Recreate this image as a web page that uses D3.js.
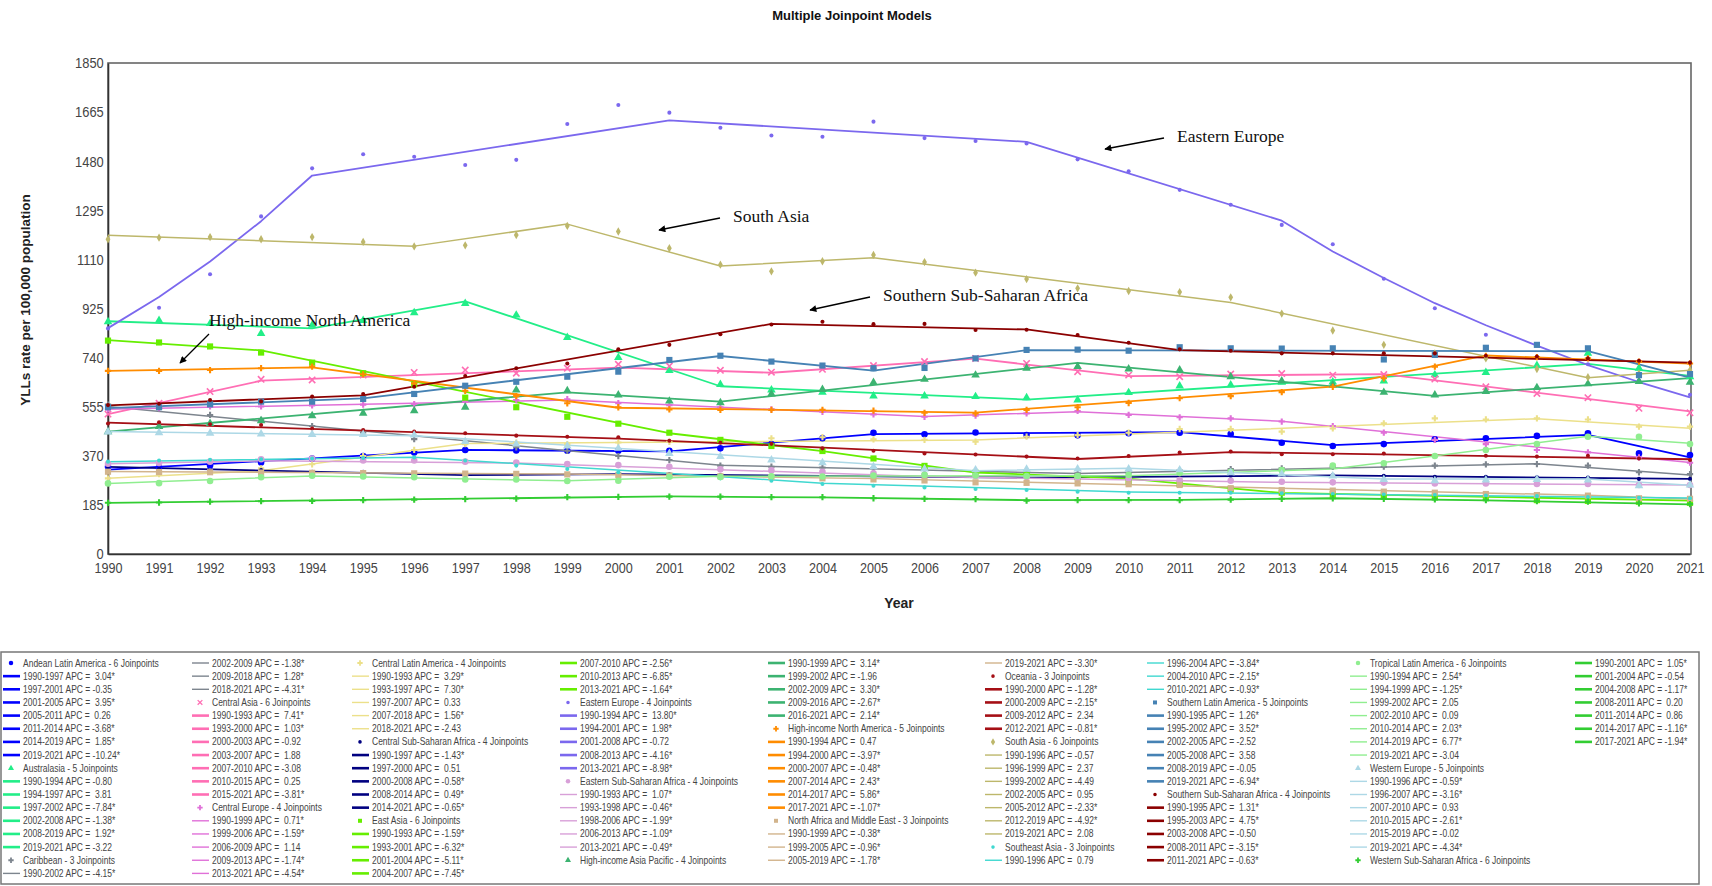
<!DOCTYPE html>
<html><head><meta charset="utf-8">
<script src="https://cdn.jsdelivr.net/npm/d3@7"></script>
<style>
html,body{margin:0;padding:0;background:#fff;}
svg{display:block;}
text{white-space:pre;}
</style></head><body>
<svg id="chart" width="1712" height="886"></svg>
<script>
// ---------------- DATA ----------------
const years = [1990,1991,1992,1993,1994,1995,1996,1997,1998,1999,2000,2001,2002,2003,2004,2005,2006,2007,2008,2009,2010,2011,2012,2013,2014,2015,2016,2017,2018,2019,2020,2021];
const yTicks = [0,185,370,555,740,925,1110,1295,1480,1665,1850];

const regions = ["Andean Latin America","Australasia","Caribbean","Central Asia","Central Europe","Central Latin America","Central Sub-Saharan Africa","East Asia","Eastern Europe","Eastern Sub-Saharan Africa","High-income Asia Pacific","High-income North America","North Africa and Middle East","Oceania","South Asia","Southeast Asia","Southern Latin America","Southern Sub-Saharan Africa","Tropical Latin America","Western Europe","Western Sub-Saharan Africa"];
const joinpoints = [6,5,3,6,4,4,4,6,4,4,4,5,3,3,6,3,5,4,6,5,6];

// observed YLL rates per 100,000 (points)
const andeanObs = [329,325,333,345,360,369,382,392,390,389,389,389,398,414,436,457,451,458,448,447,455,457,452,419,407,414,432,436,445,455,379,373];
const australasiaObs = [875,880,868,831,862,880,909,944,900,816,740,691,639,618,609,595,595,593,589,580,608,633,637,647,648,652,675,684,710,756,700,668];
const caribbeanObs = [563,549,524,505,482,458,433,417,402,389,369,354,333,329,326,323,319,310,306,304,306,314,320,323,329,329,333,338,339,333,308,301];
const centralAsiaObs = [527,568,612,658,656,674,684,693,681,700,715,708,692,685,696,710,725,737,718,687,674,668,678,680,674,676,659,630,605,589,549,532];
const centralEuropeObs = [545,550,556,556,560,563,565,574,580,583,568,561,553,545,536,526,517,521,530,539,524,515,511,499,482,457,430,414,392,383,364,344];
const centralLatAmObs = [285,301,310,323,338,369,392,414,420,414,420,423,426,436,440,432,430,423,442,448,457,471,471,461,473,492,511,507,511,507,480,480];
const centralSSAObs = [328,320,314,316,310,310,301,298,301,301,301,300,298,296,295,294,293,292,290,290,292,294,295,298,298,295,291,291,289,288,283,283];
const eastAsiaObs = [804,797,782,759,721,681,639,589,553,517,491,457,430,407,388,360,332,306,298,289,273,264,244,231,226,222,216,211,203,200,197,193];
const easternEuropeObs = [850,928,1054,1272,1453,1506,1497,1466,1485,1620,1692,1663,1606,1577,1572,1629,1567,1556,1547,1487,1442,1372,1316,1240,1167,1037,926,826,790,715,655,600];
const easternSSAObs = [340,343,348,357,360,352,352,348,345,339,335,329,319,315,310,304,298,294,290,287,284,279,276,272,270,269,266,266,264,264,260,260];
const hiapObs = [461,480,492,502,521,530,540,553,618,615,599,576,570,603,620,646,658,674,700,706,697,693,668,652,637,609,599,612,627,641,650,647];
const hinaObs = [690,690,693,700,706,677,643,615,595,568,553,545,543,543,543,540,532,530,543,553,569,587,595,610,630,662,706,746,742,737,725,718];
const nameObs = [310,309,308,307,306,305,304,303,302,300,298,296,293,290,285,281,277,270,268,266,263,260,248,241,239,235,231,226,222,220,210,208];
const oceaniaObs = [492,496,489,486,473,467,461,455,446,442,440,427,419,415,398,389,379,375,367,360,369,382,386,376,376,379,372,370,367,370,360,354];
const southAsiaObs = [1186,1192,1194,1186,1194,1176,1159,1163,1202,1236,1215,1152,1090,1065,1103,1127,1100,1060,1036,1001,991,987,967,906,842,788,756,737,697,666,680,693];
const seAsiaObs = [348,352,355,357,360,362,364,352,333,320,308,293,285,276,264,257,251,245,241,235,231,231,231,229,226,224,222,220,218,215,212,210];
const southernLatAmObs = [553,553,564,574,574,584,603,634,649,668,687,731,747,725,710,700,701,737,769,770,766,779,775,774,775,733,750,777,788,775,674,678];
const southernSSAObs = [561,566,580,575,593,603,630,671,700,718,771,788,828,865,875,866,867,844,845,825,796,771,766,756,756,756,756,747,744,737,728,721];
const tropicalLatAmObs = [266,267,275,289,295,292,289,281,281,275,276,291,290,293,292,296,298,296,294,294,298,305,310,316,333,342,369,392,414,442,442,414];
const westernEuropeObs = [460,457,455,452,450,450,448,424,414,407,398,379,367,354,344,329,320,317,319,320,320,317,306,301,294,281,276,279,281,279,257,260];
const westernSSAObs = [193,194,197,199,200,203,205,207,209,214,215,216,216,214,214,210,208,207,201,203,203,203,205,208,210,208,206,203,199,197,191,188];

// fitted joinpoint model lines: [year, modelled value]
const andeanFit = [[1990,318],[1997,392],[2001,387],[2005,452],[2011,459],[2014,410],[2019,449],[2021,364]];
const australasiaFit = [[1990,877],[1994,850],[1997,952],[2002,632],[2008,582],[2019,716],[2021,671]];
const caribbeanFit = [[1990,556],[2002,334],[2009,303],[2018,340],[2021,298]];
const centralAsiaFit = [[1990,527],[1993,653],[2000,702],[2003,683],[2007,736],[2010,670],[2015,678],[2021,537]];
const centralEuropeFit = [[1990,545],[1999,580],[2006,518],[2009,536],[2013,500],[2021,345]];
const centralLatAmFit = [[1990,285],[1993,314],[1997,416],[2007,430],[2018,510],[2021,474]];
const centralSSAFit = [[1990,328],[1997,297],[2000,301],[2008,288],[2014,296],[2021,283]];
const eastAsiaFit = [[1990,806],[1993,767],[2001,455],[2004,388],[2007,307],[2010,284],[2013,230],[2021,201]];
const easternEuropeFit = [[1990,851],[1991,968],[1992,1102],[1993,1254],[1994,1426],[2001,1634],[2008,1553],[2013,1256],[2014,1140],[2015,1040],[2016,945],[2017,862],[2018,785],[2019,712],[2020,648],[2021,590]];
const easternSSAFit = [[1990,340],[1993,351],[1998,343],[2006,292],[2013,270],[2021,260]];
const hiapFit = [[1990,461],[1999,609],[2002,574],[2009,720],[2016,596],[2021,663]];
const hinaFit = [[1990,690],[1994,703],[2000,551],[2007,533],[2014,631],[2017,748],[2021,717]];
const nameFit = [[1990,311],[1999,301],[2005,284],[2019,221],[2021,207]];
const oceaniaFit = [[1990,495],[2000,435],[2009,358],[2012,384],[2021,357]];
const southAsiaFit = [[1990,1201],[1996,1160],[1999,1243],[2002,1085],[2005,1116],[2012,948],[2019,664],[2021,692]];
const seAsiaFit = [[1990,348],[1996,365],[2004,267],[2010,234],[2021,211]];
const southernLatAmFit = [[1990,550],[1995,586],[2002,746],[2005,691],[2008,768],[2019,764],[2021,665]];
const southernSSAFit = [[1990,560],[1995,598],[2003,867],[2008,846],[2011,768],[2021,721]];
const tropicalLatAmFit = [[1990,266],[1994,294],[1999,276],[2002,293],[2010,295],[2014,320],[2019,444],[2021,417]];
const westernEuropeFit = [[1990,462],[1996,446],[2007,314],[2010,323],[2015,283],[2019,283],[2021,259]];
const westernSSAFit = [[1990,193],[2001,217],[2004,213],[2008,203],[2011,204],[2014,210],[2017,202],[2021,187]];

// legend segment labels
const andeanSegs = ["1990-1997 APC =  3.04*","1997-2001 APC = -0.35","2001-2005 APC =  3.95*","2005-2011 APC =  0.26","2011-2014 APC = -3.68*","2014-2019 APC =  1.85*","2019-2021 APC = -10.24*"];
const australasiaSegs = ["1990-1994 APC = -0.80","1994-1997 APC =  3.81","1997-2002 APC = -7.84*","2002-2008 APC = -1.38*","2008-2019 APC =  1.92*","2019-2021 APC = -3.22"];
const caribbeanSegs = ["1990-2002 APC = -4.15*","2002-2009 APC = -1.38*","2009-2018 APC =  1.28*","2018-2021 APC = -4.31*"];
const centralAsiaSegs = ["1990-1993 APC =  7.41*","1993-2000 APC =  1.03*","2000-2003 APC = -0.92","2003-2007 APC =  1.88","2007-2010 APC = -3.08","2010-2015 APC =  0.25","2015-2021 APC = -3.81*"];
const centralEuropeSegs = ["1990-1999 APC =  0.71*","1999-2006 APC = -1.59*","2006-2009 APC =  1.14","2009-2013 APC = -1.74*","2013-2021 APC = -4.54*"];
const centralLatAmSegs = ["1990-1993 APC =  3.29*","1993-1997 APC =  7.30*","1997-2007 APC =  0.33","2007-2018 APC =  1.56*","2018-2021 APC = -2.43"];
const centralSSASegs = ["1990-1997 APC = -1.43*","1997-2000 APC =  0.51","2000-2008 APC = -0.58*","2008-2014 APC =  0.49*","2014-2021 APC = -0.65*"];
const eastAsiaSegs = ["1990-1993 APC = -1.59*","1993-2001 APC = -6.32*","2001-2004 APC = -5.11*","2004-2007 APC = -7.45*","2007-2010 APC = -2.56*","2010-2013 APC = -6.85*","2013-2021 APC = -1.64*"];
const easternEuropeSegs = ["1990-1994 APC =  13.80*","1994-2001 APC =  1.98*","2001-2008 APC = -0.72","2008-2013 APC = -4.16*","2013-2021 APC = -8.98*"];
const easternSSASegs = ["1990-1993 APC =  1.07*","1993-1998 APC = -0.46*","1998-2006 APC = -1.99*","2006-2013 APC = -1.09*","2013-2021 APC = -0.49*"];
const hiapSegs = ["1990-1999 APC =  3.14*","1999-2002 APC = -1.96","2002-2009 APC =  3.30*","2009-2016 APC = -2.67*","2016-2021 APC =  2.14*"];
const hinaSegs = ["1990-1994 APC =  0.47","1994-2000 APC = -3.97*","2000-2007 APC = -0.48*","2007-2014 APC =  2.43*","2014-2017 APC =  5.86*","2017-2021 APC = -1.07*"];
const nameSegs = ["1990-1999 APC = -0.38*","1999-2005 APC = -0.96*","2005-2019 APC = -1.78*","2019-2021 APC = -3.30*"];
const oceaniaSegs = ["1990-2000 APC = -1.28*","2000-2009 APC = -2.15*","2009-2012 APC =  2.34","2012-2021 APC = -0.81*"];
const southAsiaSegs = ["1990-1996 APC = -0.57","1996-1999 APC =  2.37","1999-2002 APC = -4.49","2002-2005 APC =  0.95","2005-2012 APC = -2.33*","2012-2019 APC = -4.92*","2019-2021 APC =  2.08"];
const seAsiaSegs = ["1990-1996 APC =  0.79","1996-2004 APC = -3.84*","2004-2010 APC = -2.15*","2010-2021 APC = -0.93*"];
const southernLatAmSegs = ["1990-1995 APC =  1.26*","1995-2002 APC =  3.52*","2002-2005 APC = -2.52","2005-2008 APC =  3.58","2008-2019 APC = -0.05","2019-2021 APC = -6.94*"];
const southernSSASegs = ["1990-1995 APC =  1.31*","1995-2003 APC =  4.75*","2003-2008 APC = -0.50","2008-2011 APC = -3.15*","2011-2021 APC = -0.63*"];
const tropicalLatAmSegs = ["1990-1994 APC =  2.54*","1994-1999 APC = -1.25*","1999-2002 APC =  2.05","2002-2010 APC =  0.09","2010-2014 APC =  2.03*","2014-2019 APC =  6.77*","2019-2021 APC = -3.04"];
const westernEuropeSegs = ["1990-1996 APC = -0.59*","1996-2007 APC = -3.16*","2007-2010 APC =  0.93","2010-2015 APC = -2.61*","2015-2019 APC = -0.02","2019-2021 APC = -4.34*"];
const westernSSASegs = ["1990-2001 APC =  1.05*","2001-2004 APC = -0.54","2004-2008 APC = -1.17*","2008-2011 APC =  0.20","2011-2014 APC =  0.86","2014-2017 APC = -1.16*","2017-2021 APC = -1.94*"];

const annotations = ["Eastern Europe","South Asia","Southern Sub-Saharan Africa","High-income North America"];

// ---------------- STYLE ----------------
const colors = ["#0000ff","#22ee88","#7d858e","#ff6eb4","#e070d8","#ece08a","#000080","#66ee00","#7b68ee","#d8a0d8","#3cb371","#ff8c00","#d2b48c","#a50f15","#bdb76b","#40d8d0","#4682b4","#8b0000","#90ee90","#add8e6","#32cd32"];
const markers = ["circle","triangle","cross","times","cross","cross","dot","square","dot","circle","triangle","cross","square","dot","diamond","dot","square","dot","circle","triangle","cross"];
const thick = [true,true,false,true,false,false,true,true,true,false,true,true,false,true,false,false,true,true,false,false,true];

const obsList = [andeanObs,australasiaObs,caribbeanObs,centralAsiaObs,centralEuropeObs,centralLatAmObs,centralSSAObs,eastAsiaObs,easternEuropeObs,easternSSAObs,hiapObs,hinaObs,nameObs,oceaniaObs,southAsiaObs,seAsiaObs,southernLatAmObs,southernSSAObs,tropicalLatAmObs,westernEuropeObs,westernSSAObs];
const fitList = [andeanFit,australasiaFit,caribbeanFit,centralAsiaFit,centralEuropeFit,centralLatAmFit,centralSSAFit,eastAsiaFit,easternEuropeFit,easternSSAFit,hiapFit,hinaFit,nameFit,oceaniaFit,southAsiaFit,seAsiaFit,southernLatAmFit,southernSSAFit,tropicalLatAmFit,westernEuropeFit,westernSSAFit];
const segList = [andeanSegs,australasiaSegs,caribbeanSegs,centralAsiaSegs,centralEuropeSegs,centralLatAmSegs,centralSSASegs,eastAsiaSegs,easternEuropeSegs,easternSSASegs,hiapSegs,hinaSegs,nameSegs,oceaniaSegs,southAsiaSegs,seAsiaSegs,southernLatAmSegs,southernSSASegs,tropicalLatAmSegs,westernEuropeSegs,westernSSASegs];

const series = regions.map((name,i)=>({name, jp:joinpoints[i], obs:obsList[i], fit:fitList[i], segs:segList[i], color:colors[i], marker:markers[i], thick:thick[i]}));

// ---------------- DRAW ----------------
const svg = d3.select('#chart');
const L = 108, R = 1690, T = 63, B = 554;
const x = d3.scaleLinear().domain([1990,2021]).range([L,R]);
const y = d3.scaleLinear().domain([0,1850]).range([B,T]);
const sans = "'Liberation Sans', Arial, sans-serif";

// title
svg.append('text').attr('x',852).attr('y',20).attr('text-anchor','middle')
  .attr('font-family',sans).attr('font-weight','bold').attr('font-size',13).attr('fill','#111')
  .text('Multiple Joinpoint Models');

// frame
svg.append('rect').attr('x',L).attr('y',T).attr('width',R-L+1).attr('height',B-T)
  .attr('fill','none').attr('stroke','#666').attr('stroke-width',1.6);

// axes
const gy = svg.append('g').attr('transform',`translate(${L},0)`)
  .call(d3.axisLeft(y).tickValues(yTicks).tickSize(0).tickPadding(5).tickFormat(d3.format('d')));
gy.select('.domain').attr('stroke','#333').attr('stroke-width',1.6);
gy.selectAll('text').attr('font-family',sans).attr('font-size',15).attr('fill','#444').attr('transform','scale(0.86,1)');

const gx = svg.append('g').attr('transform',`translate(0,${B})`)
  .call(d3.axisBottom(x).tickValues(years).tickSize(0).tickPadding(9).tickFormat(d3.format('d')));
gx.select('.domain').attr('stroke','#333').attr('stroke-width',1.6);
gx.selectAll('text').attr('font-family',sans).attr('font-size',14).attr('fill','#444').attr('transform','scale(0.9,1)');

svg.append('text').attr('x',(L+R)/2).attr('y',608).attr('text-anchor','middle')
  .attr('font-family',sans).attr('font-weight','bold').attr('font-size',14).attr('fill','#222').text('Year');
svg.append('text').attr('transform','translate(30,300) rotate(-90)').attr('text-anchor','middle')
  .attr('font-family',sans).attr('font-weight','bold').attr('font-size',13.5).attr('fill','#222')
  .text('YLLs rate per 100,000 population');

// symbol helper
function symPath(type, size){
  const map = {circle:d3.symbolCircle, triangle:d3.symbolTriangle, cross:d3.symbolCross, times:d3.symbolTimes, square:d3.symbolSquare, dot:d3.symbolCircle, diamond:d3.symbolDiamond};
  return d3.symbol().type(map[type]).size(size)();
}
const symSize = {circle:34, triangle:32, cross:22, times:28, square:38, dot:13, diamond:20};

const line = d3.line().x(d=>x(d[0])).y(d=>y(d[1]));
const plot = svg.append('g');
series.forEach(s=>{
  plot.append('path').attr('d',line(s.fit)).attr('fill','none').attr('stroke',s.color)
    .attr('stroke-width', s.thick?1.8:1.5).attr('stroke-linejoin','round');
});
series.forEach(s=>{
  const g = plot.append('g');
  g.selectAll('path').data(s.obs.map((v,i)=>[years[i],v])).join('path')
    .attr('transform',d=>`translate(${x(d[0])},${y(d[1])})`)
    .attr('d',symPath(s.marker, symSize[s.marker]))
    .attr('fill', s.marker==='times'?'none':s.color)
    .attr('stroke', s.marker==='times'?s.color:'none')
    .attr('stroke-width',1.6);
});

// annotations
const annPos = [[1177,142,1164,138,1105,149],[733,222,720,218,659,230],[883,301,870,297,810,310],[209,326,209,334,180,363]];
svg.append('defs').append('marker').attr('id','ah').attr('viewBox','0 0 10 10').attr('refX',9).attr('refY',5)
  .attr('markerWidth',9).attr('markerHeight',7).attr('markerUnits','userSpaceOnUse').attr('orient','auto')
  .append('path').attr('d','M0,0 L10,5 L0,10 Z').attr('fill','#000');
annotations.forEach((t,i)=>{
  const p = annPos[i];
  svg.append('text').attr('x',p[0]).attr('y',p[1]).attr('font-family',"'Liberation Serif','Times New Roman',serif")
    .attr('font-size',17.5).attr('fill','#111').text(t);
  svg.append('line').attr('x1',p[2]).attr('y1',p[3]).attr('x2',p[4]).attr('y2',p[5])
    .attr('stroke','#000').attr('stroke-width',1.3).attr('marker-end','url(#ah)');
});

// legend
svg.append('rect').attr('x',1).attr('y',652).attr('width',1698).attr('height',232)
  .attr('fill','none').attr('stroke','#777').attr('stroke-width',1.5);
const items = [];
series.forEach(s=>{
  items.push({type:'head', s, text:`${s.name} - ${s.jp} Joinpoints`});
  s.segs.forEach(t=>items.push({type:'seg', s, text:t}));
});
const colCounts = [17,17,17,16,16,16,16,16,7];
const colX = [3,192,352,560,768,985,1147,1350,1575];
const rowY0 = 663, rowH = 13.15;
const lg = svg.append('g');
let idx = 0;
colCounts.forEach((n,c)=>{
  for(let r=0;r<n;r++){
    const it = items[idx++];
    const cx = colX[c], cy = rowY0 + r*rowH;
    if(it.type==='head'){
      lg.append('path').attr('transform',`translate(${cx+8},${cy})`)
        .attr('d',symPath(it.s.marker, it.s.marker==='dot'?10:16))
        .attr('fill', it.s.marker==='times'?'none':it.s.color)
        .attr('stroke', it.s.marker==='times'?it.s.color:'none').attr('stroke-width',1.3);
    } else {
      lg.append('line').attr('x1',cx).attr('x2',cx+17).attr('y1',cy).attr('y2',cy)
        .attr('stroke',it.s.color).attr('stroke-width', it.s.thick?2.6:1.4);
    }
    lg.append('text').attr('transform',`translate(${cx+20},${cy+3.5}) scale(0.85,1)`)
      .attr('font-family',sans).attr('font-size',10).attr('fill','#444').text(it.text);
  }
});
</script>
</body></html>
